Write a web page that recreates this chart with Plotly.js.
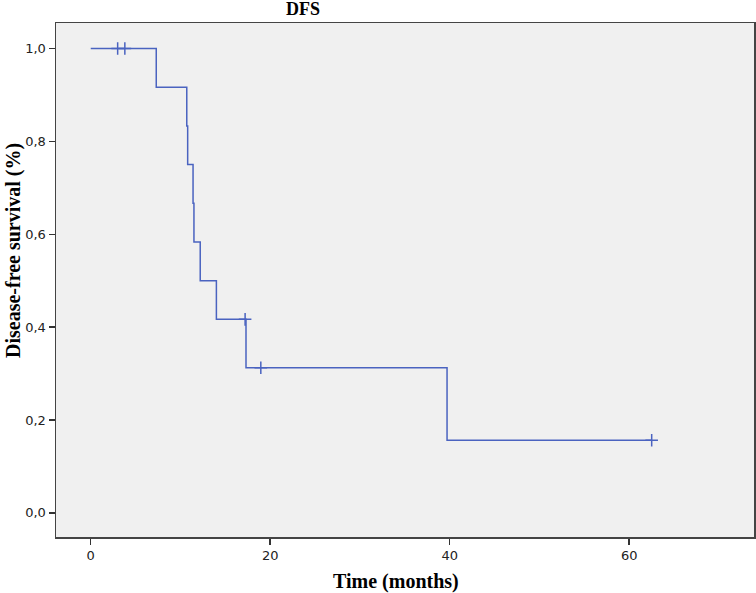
<!DOCTYPE html>
<html>
<head>
<meta charset="utf-8">
<script src="https://cdn.plot.ly/plotly-3.0.1.min.js"></script>
<style>html,body{margin:0;padding:0;background:#fff;}#chart{width:756px;height:593px;}</style>
</head>
<body>
<div id="chart"></div>
<script>
// Kaplan-Meier step curve (event times, survival after each step)
const stepTimes = [0, 7.3, 10.7, 10.8, 11.4, 11.5, 12.2, 14.0, 17.3, 39.7, 62.5];
const stepSurvival = [1.0, 0.9167, 0.8333, 0.75, 0.6667, 0.5833, 0.5, 0.4167, 0.3125, 0.1563, 0.1563];
// Censored observations
const censorTimes = [3.0, 3.8, 17.2, 18.95, 62.5];
const censorSurvival = [1.0, 1.0, 0.4167, 0.3125, 0.1563];
// Axis ticks
const xTicks = [0, 20, 40, 60];
const yTicks = [0.0, 0.2, 0.4, 0.6, 0.8, 1.0];

const blue = '#4a63c0';
const serif = 'Liberation Serif, Times New Roman, serif';
const traces = [
  {x: stepTimes, y: stepSurvival, type: 'scatter', mode: 'lines',
   line: {shape: 'hv', color: blue, width: 1.5}, hoverinfo: 'skip'},
  {x: censorTimes, y: censorSurvival, type: 'scatter', mode: 'markers',
   marker: {symbol: 'cross-thin', size: 9, line: {color: blue, width: 1.5}}, hoverinfo: 'skip'}
];
const layout = {
  width: 756, height: 593,
  margin: {l: 56, r: 2, t: 23, b: 56},
  paper_bgcolor: '#ffffff', plot_bgcolor: '#f0f0f0',
  showlegend: false,
  separators: ',.',
  title: {text: '<b>DFS</b>', x: 303/756, xanchor: 'center', xref: 'container',
          y: 1 - 9/593, yref: 'container', yanchor: 'middle',
          font: {family: serif, size: 18, color: '#000'}},
  xaxis: {range: [-3.87, 73.9], tickvals: xTicks, ticks: 'outside', ticklen: 6, tickwidth: 1.5, tickcolor: '#333',
          showline: true, linecolor: '#444', linewidth: 1.5, mirror: true, showgrid: false, zeroline: false,
          tickfont: {family: 'DejaVu Sans, sans-serif', size: 13, color: '#222'}},
  yaxis: {range: [-0.052, 1.055], tickvals: yTicks, tickformat: '.1f', ticks: 'outside', ticklen: 6, tickwidth: 1.5, tickcolor: '#333',
          showline: true, linecolor: '#444', linewidth: 1.5, mirror: true, showgrid: false, zeroline: false,
          tickfont: {family: 'DejaVu Sans, sans-serif', size: 13, color: '#222'}},
  annotations: [
    {text: '<b>Time (months)</b>', xref: 'paper', yref: 'paper', showarrow: false,
     x: (396 - 56) / 698, xanchor: 'center', y: -(581 - 537) / 514, yanchor: 'middle',
     font: {family: serif, size: 20, color: '#000'}},
    {text: '<b>Disease-free survival (%)</b>', xref: 'paper', yref: 'paper', showarrow: false, textangle: -90,
     x: -(56 - 13) / 698, xanchor: 'center', y: (537 - 251) / 514, yanchor: 'middle',
     font: {family: serif, size: 20, color: '#000'}}
  ]
};
Plotly.newPlot('chart', traces, layout, {displayModeBar: false, staticPlot: true});
</script>
</body>
</html>
